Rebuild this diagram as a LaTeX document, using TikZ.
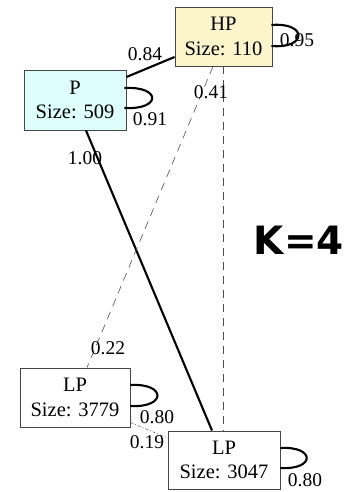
\documentclass[tikz,border=0pt]{standalone}
\usepackage{fontspec}
\setmainfont{Liberation Serif}
\newfontfamily\kfont{DejaVu Sans}
\usetikzlibrary{calc}
\definecolor{hpfill}{RGB}{252,245,204}
\definecolor{pfill}{RGB}{222,253,253}
\definecolor{boxline}{RGB}{70,70,70}
\begin{document}
\begin{tikzpicture}[x=1pt,y=-1pt,
  statebox/.style={draw=boxline,line width=0.9pt,rectangle,inner sep=0pt,align=center,
    font=\fontsize{20.5}{24.5}\selectfont},
  strong/.style={line width=2.1pt,black},
  weak/.style={line width=0.6pt,black!70,dash pattern=on 8pt off 6pt},
  faint/.style={line width=0.5pt,black!70,dash pattern=on 3pt off 2pt on 1pt off 2pt},
  lbl/.style={font=\fontsize{19.5}{22}\selectfont,inner sep=0pt}]
\useasboundingbox (0,0) rectangle (349,492);
\node[statebox,fill=hpfill,minimum width=97pt,minimum height=59pt] (HP) at (223.5,36.5) {HP\\Size: 110};
\node[statebox,fill=pfill,minimum width=102pt,minimum height=60pt] (P) at (75,100) {P\\Size: 509};
\node[statebox,fill=white,minimum width=110pt,minimum height=59pt] (LPa) at (75,397.5) {LP\\Size: 3779};
\node[statebox,fill=white,minimum width=112pt,minimum height=58pt] (LPb) at (224,460) {LP\\Size: 3047};
% edges
\draw[strong] ($(HP.west)+(0,20.5)$) -- ($(P.east)+(0,-23)$);
\draw[strong] ($(P.south)+(11,0)$) -- ($(LPb.north)+(-12,0)$);
\draw[weak] ($(HP.south)+(-10.5,0)$) -- ($(LPa.north)+(12,0)$);
\draw[weak] ($(HP.south)+(-0.5,0)$) -- ($(LPb.north)+(-1,0)$);
\draw[faint] ($(LPa.south east)+(0,-5)$) -- ($(LPb.west)+(0,-22)$);
% self loops
\draw[strong] ($(HP.east)+(-1,-11.5)$) .. controls +(36,-3) and +(36,3) .. ($(HP.east)+(-1,9.5)$);
\draw[strong] ($(P.east)+(-2,-12)$) .. controls +(37,-2) and +(37,2) .. ($(P.east)+(-2,8)$);
\draw[strong] ($(LPa.east)+(0,-12.5)$) .. controls +(36,-2) and +(36,2) .. ($(LPa.east)+(0,8.5)$);
\draw[strong] ($(LPb.east)+(0,-12)$) .. controls +(35,-2) and +(35,2) .. ($(LPb.east)+(0,8)$);
% labels
\node[lbl] (l084) at (145,54) {0.84};
\node[lbl] (l095) at (297,40) {0.95};
\node[lbl] (l091) at (150,119) {0.91};
\node[lbl] (l041) at (211,92) {0.41};
\node[lbl] (l100) at (85,158) {1.00};
\node[lbl] (l022) at (108,348) {0.22};
\node[lbl] (l080a) at (157,417) {0.80};
\node[lbl] (l019) at (147,442) {0.19};
\node[lbl] (l080b) at (305,480) {0.80};
\node[font=\kfont\bfseries\fontsize{39}{44}\selectfont,inner sep=0pt] (K) at (299,240) {K=4};
\end{tikzpicture}
\end{document}
